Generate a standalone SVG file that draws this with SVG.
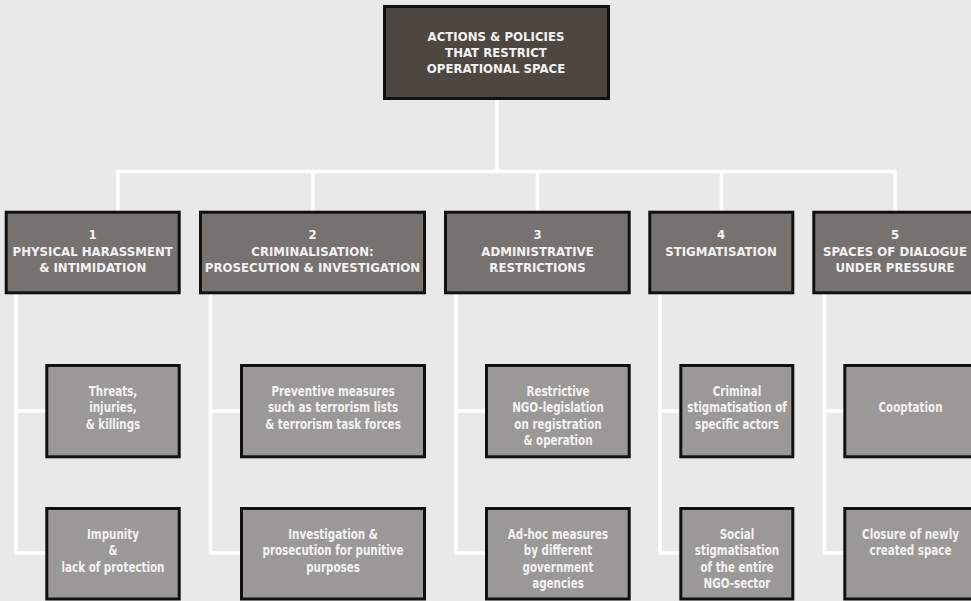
<svg xmlns="http://www.w3.org/2000/svg" width="971" height="601" viewBox="0 0 971 601">
<style>
.bg{fill:#e9e9e9}
.top{fill:#4d4641;stroke:#111;stroke-width:3}
.cat{fill:#767270;stroke:#111;stroke-width:3}
.leaf{fill:#9b9997;stroke:#111;stroke-width:3}
.conn{fill:none;stroke:#fff;stroke-width:3.5;stroke-linejoin:miter;stroke-linecap:butt}
text{font-family:"DejaVu Sans Condensed","DejaVu Sans",sans-serif;font-stretch:condensed;font-weight:bold;fill:#f2f2f2;text-anchor:middle}
.caps text{font-size:12px}
.low text{font-size:13.3px}
</style>
<rect class="bg" x="0" y="0" width="971" height="601"/>
<g id="connectors">
<path class="conn" d="M497,100 V171.5"/>
<path class="conn" d="M118,211 V171.5 H895 V211"/>
<path class="conn" d="M313,171.5 V211 M537.5,171.5 V211 M721.5,171.5 V211"/>
<path class="conn" d="M16,294 V553 H46 M16,411 H46"/>
<path class="conn" d="M210.5,294 V553 H241 M210.5,411 H241"/>
<path class="conn" d="M456,294 V553 H486 M456,411 H486"/>
<path class="conn" d="M660,294 V553 H680 M660,411 H680"/>
<path class="conn" d="M824.5,294 V553 H844 M824.5,411 H844"/>
</g>
<g id="root">
<rect class="top" x="384.5" y="6.5" width="224" height="92"/>
<g class="caps" transform="translate(496,0) scale(1.09,1)">
<text x="0" y="40.7">ACTIONS &amp; POLICIES</text>
<text x="0" y="57.3">THAT RESTRICT</text>
<text x="0" y="73.3">OPERATIONAL SPACE</text>
</g>
</g>
<g id="cat1">
<rect class="cat" x="6.2" y="212.2" width="173" height="80.6"/>
<g class="caps" transform="translate(92.7,0) scale(1.09,1)">
<text x="0" y="239">1</text>
<text x="0" y="255.7">PHYSICAL HARASSMENT</text>
<text x="0" y="272.3">&amp; INTIMIDATION</text>
</g>
</g>
<g id="cat2">
<rect class="cat" x="200.5" y="212.2" width="224" height="80.6"/>
<g class="caps" transform="translate(312.5,0) scale(1.09,1)">
<text x="0" y="239">2</text>
<text x="0" y="255.7">CRIMINALISATION:</text>
<text x="0" y="272.3">PROSECUTION &amp; INVESTIGATION</text>
</g>
</g>
<g id="cat3">
<rect class="cat" x="445.5" y="212.2" width="183.7" height="80.6"/>
<g class="caps" transform="translate(537.5,0) scale(1.09,1)">
<text x="0" y="239">3</text>
<text x="0" y="255.7">ADMINISTRATIVE</text>
<text x="0" y="272.3">RESTRICTIONS</text>
</g>
</g>
<g id="cat4">
<rect class="cat" x="649.8" y="212.2" width="143" height="80.6"/>
<g class="caps" transform="translate(721,0) scale(1.09,1)">
<text x="0" y="239">4</text>
<text x="0" y="255.7">STIGMATISATION</text>
</g>
</g>
<g id="cat5">
<rect class="cat" x="813.8" y="212.2" width="163" height="80.6"/>
<g class="caps" transform="translate(895,0) scale(1.09,1)">
<text x="0" y="239">5</text>
<text x="0" y="255.7">SPACES OF DIALOGUE</text>
<text x="0" y="272.3">UNDER PRESSURE</text>
</g>
</g>
<g id="leaf1a">
<rect class="leaf" x="46.8" y="365.5" width="132.4" height="91.3"/>
<g class="low" transform="translate(113,0) scale(0.865,1)">
<text x="0" y="396">Threats,</text>
<text x="0" y="412.5">injuries,</text>
<text x="0" y="429">&amp; killings</text>
</g>
</g>
<g id="leaf1b">
<rect class="leaf" x="46.8" y="508.5" width="132.4" height="90.5"/>
<g class="low" transform="translate(113,0) scale(0.865,1)">
<text x="0" y="539">Impunity</text>
<text x="0" y="555.5">&amp;</text>
<text x="0" y="572">lack of protection</text>
</g>
</g>
<g id="leaf2a">
<rect class="leaf" x="241.5" y="365.5" width="183" height="91.3"/>
<g class="low" transform="translate(333,0) scale(0.865,1)">
<text x="0" y="396">Preventive measures</text>
<text x="0" y="412.5">such as terrorism lists</text>
<text x="0" y="429">&amp; terrorism task forces</text>
</g>
</g>
<g id="leaf2b">
<rect class="leaf" x="241.5" y="508.5" width="183" height="90.5"/>
<g class="low" transform="translate(333,0) scale(0.865,1)">
<text x="0" y="539">Investigation &amp;</text>
<text x="0" y="555.5">prosecution for punitive</text>
<text x="0" y="572">purposes</text>
</g>
</g>
<g id="leaf3a">
<rect class="leaf" x="486.5" y="365.5" width="142.7" height="91.3"/>
<g class="low" transform="translate(558,0) scale(0.865,1)">
<text x="0" y="396">Restrictive</text>
<text x="0" y="412.5">NGO-legislation</text>
<text x="0" y="429">on registration</text>
<text x="0" y="445.5">&amp; operation</text>
</g>
</g>
<g id="leaf3b">
<rect class="leaf" x="486.5" y="508.5" width="142.7" height="90.5"/>
<g class="low" transform="translate(558,0) scale(0.865,1)">
<text x="0" y="539">Ad-hoc measures</text>
<text x="0" y="555.5">by different</text>
<text x="0" y="572">government</text>
<text x="0" y="588.5">agencies</text>
</g>
</g>
<g id="leaf4a">
<rect class="leaf" x="680.8" y="365.5" width="112" height="91.3"/>
<g class="low" transform="translate(737,0) scale(0.865,1)">
<text x="0" y="396">Criminal</text>
<text x="0" y="412.5">stigmatisation of</text>
<text x="0" y="429">specific actors</text>
</g>
</g>
<g id="leaf4b">
<rect class="leaf" x="680.8" y="508.5" width="112" height="90.5"/>
<g class="low" transform="translate(737,0) scale(0.865,1)">
<text x="0" y="539">Social</text>
<text x="0" y="555.5">stigmatisation</text>
<text x="0" y="572">of the entire</text>
<text x="0" y="588.5">NGO-sector</text>
</g>
</g>
<g id="leaf5a">
<rect class="leaf" x="844.8" y="365.5" width="131" height="91.3"/>
<g class="low" transform="translate(910.5,0) scale(0.865,1)">
<text x="0" y="412.5">Cooptation</text>
</g>
</g>
<g id="leaf5b">
<rect class="leaf" x="844.8" y="508.5" width="131" height="90.5"/>
<g class="low" transform="translate(910.5,0) scale(0.865,1)">
<text x="0" y="539">Closure of newly</text>
<text x="0" y="555.5">created space</text>
</g>
</g>
</svg>
